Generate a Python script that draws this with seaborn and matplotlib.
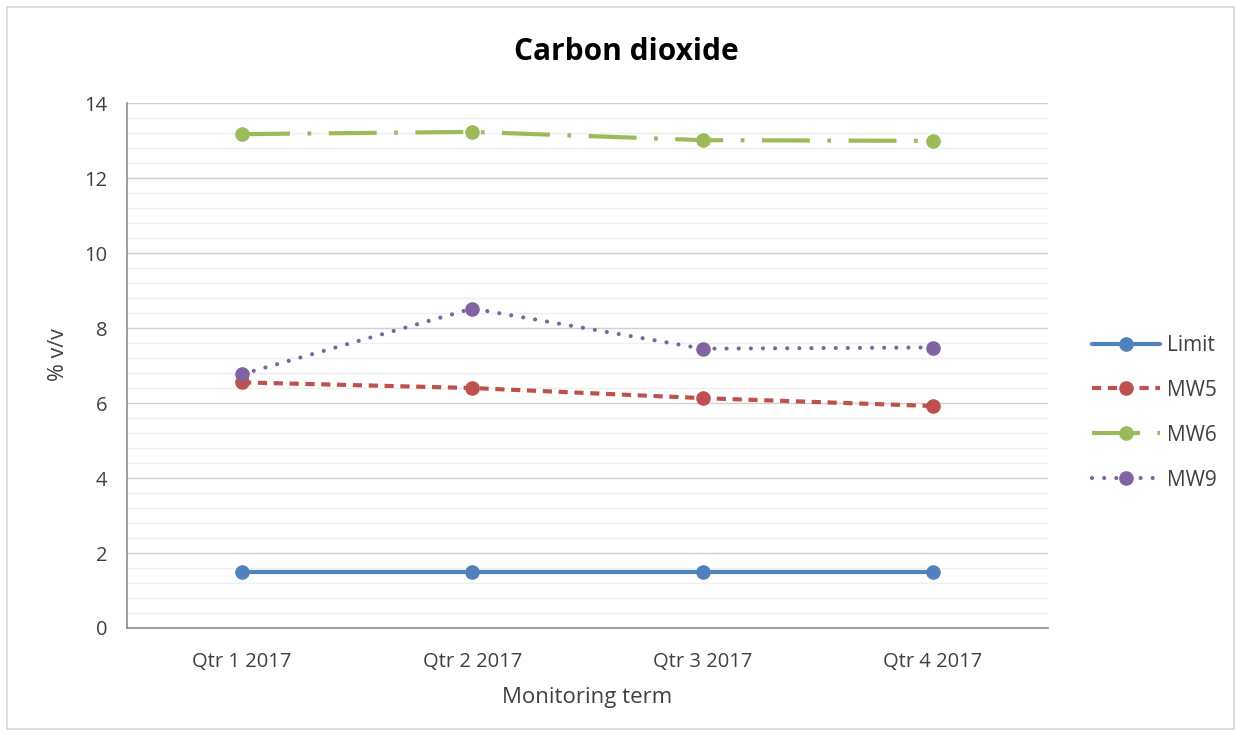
import matplotlib
matplotlib.use("Agg")
import matplotlib.pyplot as plt
from matplotlib.patches import Rectangle
from matplotlib.ticker import MultipleLocator
from matplotlib.colors import to_hex
import seaborn as sns
import pandas as pd

# Quarterly carbon dioxide readings (% v/v)
quarters = ["Qtr 1 2017", "Qtr 2 2017", "Qtr 3 2017", "Qtr 4 2017"]
limit = [1.5, 1.5, 1.5, 1.5]
mw5 = [6.55, 6.4, 6.13, 5.92]
mw6 = [13.17, 13.23, 13.01, 12.99]
mw9 = [6.77, 8.52, 7.45, 7.48]

series_names = ["Limit", "MW5", "MW6", "MW9"]
series_values = [limit, mw5, mw6, mw9]

rows = []
for name, vals in zip(series_names, series_values):
    for i, (q, v) in enumerate(zip(quarters, vals)):
        rows.append({"term": i, "label": q, "series": name, "value": v})
df = pd.DataFrame(rows)

sns.set_theme(style="white")
plt.rcParams["font.family"] = ["Open Sans", "DejaVu Sans"]

palette = {"Limit": "#4F81BD", "MW5": "#C0504D", "MW6": "#9BBB59", "MW9": "#8064A2"}
dashes = {
    "Limit": "",
    "MW5": (2.2, 1.6),
    "MW6": (11.5, 4.2, 0.9, 4.2),
    "MW9": (0.01, 2.9),
}

fig = plt.figure(figsize=(12.41, 7.37), dpi=100)
ax = fig.add_axes([0.1023, 0.1479, 0.7421, 0.7123])

sns.lineplot(
    data=df, x="term", y="value", hue="series", style="series",
    hue_order=series_names, style_order=series_names,
    palette=palette, dashes=dashes, markers={n: "o" for n in series_names},
    markersize=10.5, markeredgewidth=0, linewidth=3.0, ax=ax, legend=True,
)

# Round dots for the dotted series
for line in ax.lines:
    line.set_solid_capstyle("round")
    if to_hex(line.get_color()).lower() == "#8064a2":
        line.set_dash_capstyle("round")

ax.set_xlim(-0.5, 3.5)
ax.set_ylim(0, 14)
ax.set_xticks(range(len(quarters)))
ax.set_xticklabels(quarters)
ax.yaxis.set_major_locator(MultipleLocator(2))
ax.yaxis.set_minor_locator(MultipleLocator(0.4))
ax.grid(which="major", axis="y", color="#D0D0D0", linewidth=1.0)
ax.grid(which="minor", axis="y", color="#EFEFEF", linewidth=1.0)
ax.grid(which="major", axis="x", visible=False)
ax.set_axisbelow(True)

for side in ["top", "right"]:
    ax.spines[side].set_visible(False)
for side in ["left", "bottom"]:
    ax.spines[side].set_color("#8C8C8C")
    ax.spines[side].set_linewidth(1.2)

ax.tick_params(axis="both", which="both", length=0, labelsize=14.5, colors="#404040")
ax.tick_params(axis="x", pad=17)
ax.tick_params(axis="y", pad=14)

ax.set_xlabel("Monitoring term", fontsize=16, color="#404040", labelpad=11)
ax.set_ylabel("% v/v", fontsize=15.5, color="#404040")
ax.yaxis.set_label_coords(-0.063, 0.52)
fig.text(0.505, 0.929, "Carbon dioxide", ha="center", va="center",
         fontsize=21.5, fontweight="bold", color="#000000")

# Legend to the right of the plot area
handles, labels = ax.get_legend_handles_labels()
for h in handles:
    if to_hex(h.get_color()).lower() == "#8064a2":
        h.set_dash_capstyle("round")
leg = ax.legend(handles, labels, loc="center left", bbox_to_anchor=(1.027, 0.41),
                frameon=False, fontsize=15, handlelength=3.3, labelspacing=1.15,
                handletextpad=0.3)
for t in leg.get_texts():
    t.set_color("#404040")

# Chart border
fig.patches.append(Rectangle((0.006, 0.011), 0.988, 0.979, transform=fig.transFigure,
                             fill=False, edgecolor="#D9D9D9", linewidth=1.2))

fig.savefig("out.png", dpi=100, facecolor="white")
